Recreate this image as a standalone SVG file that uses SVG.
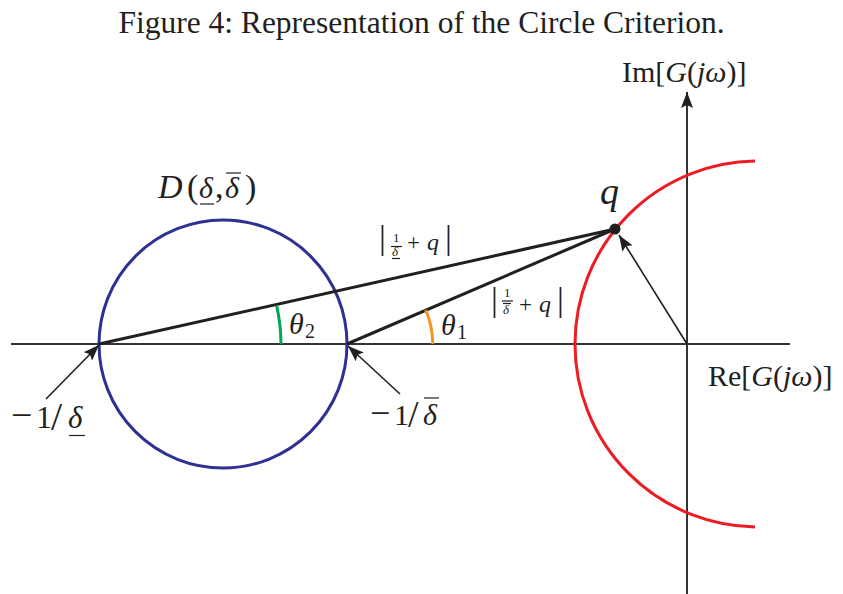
<svg xmlns="http://www.w3.org/2000/svg" width="843" height="594" viewBox="0 0 843 594">
<style>
.t{font-family:"Liberation Serif","Times New Roman",serif;fill:#231f20}
.i{font-style:italic}
.ax{stroke:#333;stroke-width:2;fill:none}
.ln{stroke:#231f20;stroke-width:3;fill:none}
.ar{stroke:#231f20;stroke-width:1.6;fill:none}
.rule{stroke:#231f20;stroke-width:1.2}
</style>
<defs>
<marker id="ah2" viewBox="0 0 16 12" refX="16" refY="6" markerWidth="16" markerHeight="12" markerUnits="userSpaceOnUse" orient="auto">
<path d="M0,0 L16,6 L0,12 L3,6 z" fill="#231f20"/>
</marker>
<clipPath id="clipL"><rect x="0" y="0" width="755" height="594"/></clipPath>
</defs>
<rect width="843" height="594" fill="#fff"/>
<text class="t" x="421.5" y="33" font-size="31.5" text-anchor="middle">Figure 4: Representation of the Circle Criterion.</text>

<g id="axes">
<line class="ax" x1="11" y1="344" x2="790" y2="344"/>
<line class="ax" x1="687" y1="594" x2="687" y2="92" marker-end="url(#ah2)"/>
</g>

<g id="circle-D">
<circle cx="223" cy="344" r="124" fill="none" stroke="#2e3192" stroke-width="3"/>
</g>
<g id="nyquist">
<circle cx="758" cy="344" r="183" fill="none" stroke="#ed1c24" stroke-width="3" clip-path="url(#clipL)"/>
</g>

<g id="connectors">
<line class="ln" x1="99" y1="344" x2="615" y2="229"/>
<line class="ln" x1="347" y1="344" x2="615" y2="229"/>
<line class="ar" x1="687" y1="344" x2="619" y2="235" marker-end="url(#ah2)"/>
<line class="ar" x1="46" y1="399" x2="99" y2="345" marker-end="url(#ah2)"/>
<line class="ar" x1="400" y1="394" x2="348" y2="346" marker-end="url(#ah2)"/>
</g>

<g id="angles">
<path d="M281,344 A182,182 0 0 0 276.6,305.3" fill="none" stroke="#00a651" stroke-width="3"/>
<path d="M432.7,344 A85.7,85.7 0 0 0 425.7,310" fill="none" stroke="#f7941d" stroke-width="3"/>
</g>

<g id="q-point">
<circle cx="615" cy="229" r="5.5" fill="#231f20"/>
<text class="t i" x="600" y="204" font-size="38">q</text>
</g>

<g id="label-im">
<text class="t" x="622" y="82" font-size="30">Im[<tspan class="i">G</tspan>(<tspan class="i">jω</tspan>)]</text>
</g>
<g id="label-re">
<text class="t" x="708" y="386" font-size="30">Re[<tspan class="i">G</tspan>(<tspan class="i">jω</tspan>)]</text>
</g>

<g id="label-D">
<text class="t i" x="158" y="198" font-size="34">D</text>
<text class="t" x="187" y="198" font-size="34">(</text>
<text class="t i" x="199" y="198" font-size="30">δ</text>
<text class="t" x="215" y="198" font-size="34">,</text>
<text class="t i" x="225" y="198" font-size="30">δ</text>
<text class="t" x="245" y="198" font-size="34">)</text>
<line class="rule" x1="200" y1="204" x2="214" y2="204" stroke-width="1.6"/>
<line class="rule" x1="226" y1="173" x2="241" y2="173" stroke-width="1.6"/>
</g>

<g id="label-top">
<text class="t" x="379" y="249" font-size="34">|</text>
<text class="t" x="393" y="242" font-size="13">1</text>
<line class="rule" x1="391" y1="246.5" x2="402" y2="246.5"/>
<text class="t i" x="392" y="256" font-size="13">δ</text>
<line class="rule" x1="392" y1="258.5" x2="400" y2="258.5"/>
<text class="t" x="407" y="250" font-size="23">+</text>
<text class="t i" x="427" y="250" font-size="24">q</text>
<text class="t" x="445" y="249" font-size="34">|</text>
</g>

<g id="label-bottom">
<text class="t" x="491" y="311" font-size="34">|</text>
<text class="t" x="504" y="297" font-size="13">1</text>
<line class="rule" x1="502" y1="301" x2="513" y2="301"/>
<line class="rule" x1="503" y1="303.5" x2="511" y2="303.5"/>
<text class="t i" x="503" y="314" font-size="13">δ</text>
<text class="t" x="519" y="312" font-size="23">+</text>
<text class="t i" x="539" y="312" font-size="24">q</text>
<text class="t" x="557" y="311" font-size="34">|</text>
</g>

<g id="label-theta2">
<text class="t i" x="289" y="334" font-size="30">θ</text>
<text class="t" x="305" y="338" font-size="20">2</text>
</g>
<g id="label-theta1">
<text class="t i" x="441" y="335" font-size="30">θ</text>
<text class="t" x="457" y="339" font-size="20">1</text>
</g>

<g id="label-left">
<text class="t" x="11" y="428" font-size="38">−</text>
<text class="t" x="36" y="428" font-size="32">1</text>
<text class="t" x="51" y="430" font-size="40">/</text>
<text class="t i" x="68" y="428" font-size="31">δ</text>
<line class="rule" x1="69" y1="435.5" x2="85" y2="435.5" stroke-width="1.6"/>
</g>
<g id="label-right">
<text class="t" x="370" y="425" font-size="36">−</text>
<text class="t" x="394" y="425" font-size="30">1</text>
<text class="t" x="408" y="427" font-size="38">/</text>
<text class="t i" x="423" y="425" font-size="30">δ</text>
<line class="rule" x1="424" y1="398" x2="439" y2="398" stroke-width="1.6"/>
</g>
</svg>
